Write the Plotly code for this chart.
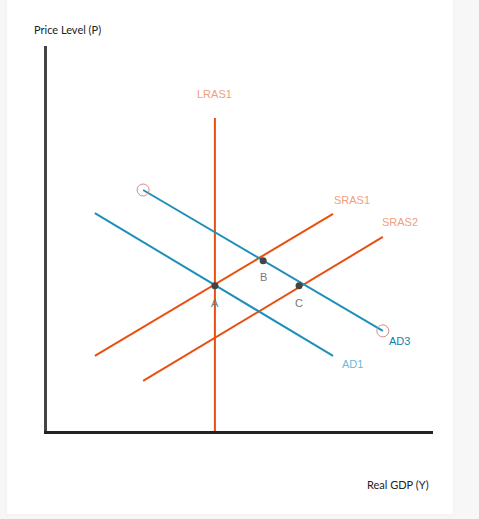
import plotly.graph_objects as go

# Data (economic units: Real GDP on x, Price level on y)
lras_x = [43.5, 43.5]
lras_y = [0, 81.3]
sras1_x = [12.4, 74.1]
sras1_y = [19.5, 56.4]
sras2_x = [24.9, 87.0]
sras2_y = [13.0, 50.4]
ad1_x = [12.4, 74.1]
ad1_y = [56.6, 19.5]
ad3_x = [24.9, 87.0]
ad3_y = [62.6, 26.0]
pts_names = ["A", "B", "C"]
pts_x = [43.5, 56.0, 65.3]
pts_y = [37.7, 44.2, 37.7]

ORANGE = "#E8500F"
BLUE = "#1E8FB8"

fig = go.Figure()
for xs, ys, c in [(lras_x, lras_y, ORANGE), (sras1_x, sras1_y, ORANGE), (sras2_x, sras2_y, ORANGE),
                  (ad1_x, ad1_y, BLUE), (ad3_x, ad3_y, BLUE)]:
    fig.add_trace(go.Scatter(x=xs, y=ys, mode="lines", line=dict(color=c, width=2),
                             hoverinfo="skip", showlegend=False, cliponaxis=False))
# open circles at AD3 ends
fig.add_trace(go.Scatter(x=ad3_x, y=ad3_y, mode="markers",
                         marker=dict(symbol="circle-open", size=12, color="#D98A8A", line=dict(width=1)),
                         showlegend=False, hoverinfo="skip", cliponaxis=False))
fig.add_trace(go.Scatter(x=pts_x, y=pts_y, mode="markers",
                         marker=dict(size=7, color="#444444"), showlegend=False, hoverinfo="skip"))

LBL = "Liberation Sans, Arial, sans-serif"
for n, x, y in zip(pts_names, pts_x, pts_y):
    yoff = 16 if n == "B" else 17
    fig.add_annotation(x=x, y=y, text=n, showarrow=False, yshift=-yoff,
                       font=dict(family=LBL, size=11, color="#777777"))

curve_labels = [
    ("LRAS1", lras_x[1], lras_y[1], 0, 24, "#F0A080"),
    ("SRAS1", sras1_x[1], sras1_y[1], 19, 14, "#F0A080"),
    ("SRAS2", sras2_x[1], sras2_y[1], 17, 15, "#F0A080"),
    ("AD1", ad1_x[1], ad1_y[1], 19, -8, "#6BB8D8"),
    ("AD3", ad3_x[1], ad3_y[1], 17, -10, "#137FA6"),
]
for t, x, y, xs, ys, c in curve_labels:
    fig.add_annotation(x=x, y=y, text=t, showarrow=False, xshift=xs, yshift=ys,
                       font=dict(family=LBL, size=11, color=c))

AX = "Lato, Open Sans, sans-serif"
fig.add_annotation(xref="paper", yref="paper", x=-0.04, y=1.021, xanchor="left", yanchor="bottom",
                   text="Price Level (P)", showarrow=False, font=dict(family=AX, size=11, color="#222"))
fig.add_annotation(xref="paper", yref="paper", x=0.994, y=-0.14, xanchor="right", yanchor="middle",
                   text="Real GDP (Y)", showarrow=False, font=dict(family=AX, size=11, color="#222"))

# card background
fig.add_shape(type="rect", xref="paper", yref="paper", x0=-0.106, x1=1.054, y0=-0.218, y1=1.2,
              line=dict(color="#EFEFEF", width=1), fillcolor="white", layer="below")

fig.update_xaxes(range=[0, 100], showgrid=False, zeroline=False, showticklabels=False, ticks="",
                 showline=True, linecolor="#222222", linewidth=3, fixedrange=True)
fig.update_yaxes(range=[0, 100], showgrid=False, zeroline=False, showticklabels=False, ticks="",
                 showline=True, linecolor="#444444", linewidth=3, fixedrange=True)
fig.update_layout(width=479, height=519, margin=dict(l=47, r=46, t=46, b=88),
                  paper_bgcolor="#F7F7F7", plot_bgcolor="white")
fig.write_html("out.html")
